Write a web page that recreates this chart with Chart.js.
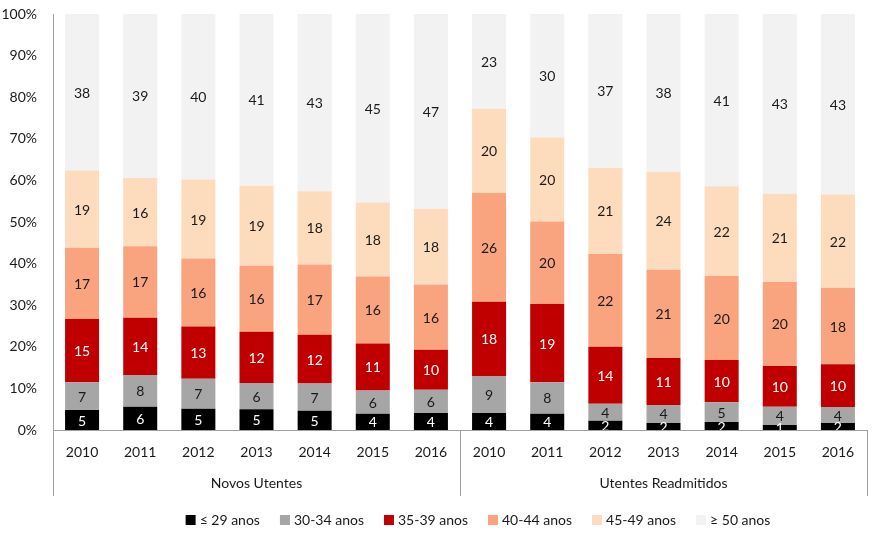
<!DOCTYPE html>
<html>
<head>
<meta charset="utf-8">
<script src="https://cdn.jsdelivr.net/npm/chart.js@4"></script>
<style>
  html, body { margin: 0; padding: 0; background: #fff; }
  #wrap { width: 876px; height: 533px; }
</style>
</head>
<body>
<div id="wrap"><canvas id="ageChart"></canvas></div>
<script>
const years = ['2010','2011','2012','2013','2014','2015','2016'];
const groups = ['Novos Utentes','Utentes Readmitidos'];
const categories = years.concat(years);

const seriesNames = ['≤ 29 anos','30-34 anos','35-39 anos','40-44 anos','45-49 anos','≥ 50 anos'];
const seriesColors = ['#000000','#a6a6a6','#c00000','#f9a47e','#fddcbd','#f2f2f2'];
const labelColors = ['#ffffff','#1a1a1a','#ffffff','#1a1a1a','#1a1a1a','#1a1a1a'];

// percentages per bar (Novos 2010-2016, then Readmitidos 2010-2016)
const age29   = [4.8,5.6,5.1,5.0,4.6,3.9,4.1, 4.1,3.9,2.2,1.7,1.9,1.2,1.7];
const age3034 = [6.7,7.6,7.2,6.3,6.6,5.6,5.6, 8.9,7.6,4.1,4.3,4.8,4.4,3.8];
const age3539 = [15.2,13.8,12.6,12.3,11.7,11.3,9.6, 17.8,18.8,13.7,11.3,10.1,9.8,10.3];
const age4044 = [17.1,17.2,16.3,15.9,16.9,16.1,15.7, 26.2,19.8,22.3,21.2,20.2,20.2,18.4];
const age4549 = [18.6,16.4,19.0,19.2,17.6,17.8,18.2, 20.2,20.2,20.7,23.6,21.6,21.2,22.4];
const age50   = [37.6,39.4,39.8,41.3,42.6,45.3,46.8, 22.8,29.7,37.0,37.9,41.4,43.2,43.4];

const yTicks = [0,10,20,30,40,50,60,70,80,90,100];

const allSeries = [age29, age3034, age3539, age4044, age4549, age50];
const FONT = 'Lato';

const datasets = allSeries.map(function(vals, i) {
  return {
    label: seriesNames[i],
    data: vals,
    backgroundColor: seriesColors[i],
    borderWidth: 0,
    categoryPercentage: 1.0,
    barPercentage: 0.585
  };
});

// value labels inside each segment
const segLabels = {
  id: 'segLabels',
  afterDatasetsDraw(chart) {
    const ctx = chart.ctx, area = chart.chartArea;
    ctx.save();
    ctx.beginPath();
    ctx.rect(area.left, area.top, area.right - area.left, area.bottom - area.top);
    ctx.clip();
    ctx.font = '14px ' + FONT;
    ctx.textAlign = 'center';
    ctx.textBaseline = 'middle';
    chart.data.datasets.forEach(function(ds, di) {
      const meta = chart.getDatasetMeta(di);
      ctx.fillStyle = labelColors[di];
      meta.data.forEach(function(bar, j) {
        const p = bar.getProps(['x','y','base'], true);
        ctx.fillText(String(Math.round(ds.data[j])), p.x, (p.y + p.base) / 2 + 1);
      });
    });
    ctx.restore();
  }
};

// group labels, separators and legend below the axis
const extras = {
  id: 'extras',
  afterDraw(chart) {
    const ctx = chart.ctx, area = chart.chartArea, x = chart.scales.x;
    const lineBottom = area.bottom + 66;
    const mid = (x.getPixelForValue(6) + x.getPixelForValue(7)) / 2;
    ctx.save();
    ctx.strokeStyle = '#a0a0a0';
    ctx.lineWidth = 1;
    [area.left, mid, area.right].forEach(function(px) {
      const xx = Math.round(px) + 0.5;
      ctx.beginPath();
      ctx.moveTo(xx, area.bottom);
      ctx.lineTo(xx, lineBottom);
      ctx.stroke();
    });
    ctx.fillStyle = '#1a1a1a';
    ctx.font = '14px ' + FONT;
    ctx.textAlign = 'center';
    ctx.textBaseline = 'middle';
    ctx.fillText(groups[0], (area.left + mid) / 2, area.bottom + 53);
    ctx.fillText(groups[1], (mid + area.right) / 2, area.bottom + 53);

    // legend
    const box = 10, gap = 4, spacing = 20;
    const widths = seriesNames.map(function(n) { return ctx.measureText(n).width; });
    let total = 0;
    widths.forEach(function(w, i) { total += box + gap + w + (i < widths.length - 1 ? spacing : 0); });
    let cx = 478 - total / 2;
    const cy = 520;
    ctx.textAlign = 'left';
    seriesNames.forEach(function(n, i) {
      ctx.fillStyle = seriesColors[i];
      ctx.fillRect(cx, cy - 5, box, box);
      ctx.fillStyle = '#1a1a1a';
      ctx.fillText(n, cx + box + gap, cy);
      cx += box + gap + widths[i] + spacing;
    });
    ctx.restore();
  }
};

new Chart('ageChart', {
  type: 'bar',
  data: { labels: categories, datasets: datasets },
  options: {
    responsive: true,
    maintainAspectRatio: false,
    animation: false,
    layout: { padding: { top: 14, right: 9, left: 0, bottom: 0 } },
    plugins: {
      legend: { display: false },
      tooltip: { enabled: false }
    },
    scales: {
      x: {
        stacked: true,
        grid: { display: false, drawTicks: false },
        border: { display: true, color: '#a0a0a0' },
        ticks: { color: '#1a1a1a', font: { family: FONT, size: 14 }, padding: 14, maxRotation: 0, autoSkip: false },
        afterFit: function(s) { s.height = 103; s.paddingLeft = 0; s.paddingRight = 0; }
      },
      y: {
        stacked: true,
        min: 0,
        max: 100,
        afterBuildTicks: function(s) { s.ticks = yTicks.map(function(v) { return { value: v }; }); },
        grid: { display: false, drawTicks: false },
        border: { display: true, color: '#a0a0a0' },
        ticks: { color: '#1a1a1a', font: { family: FONT, size: 14 }, padding: 16, callback: function(v) { return v + '%'; } },
        afterFit: function(s) { s.width = 53; s.paddingTop = 0; s.paddingBottom = 0; }
      }
    }
  },
  plugins: [segLabels, extras]
});
</script>
</body>
</html>
